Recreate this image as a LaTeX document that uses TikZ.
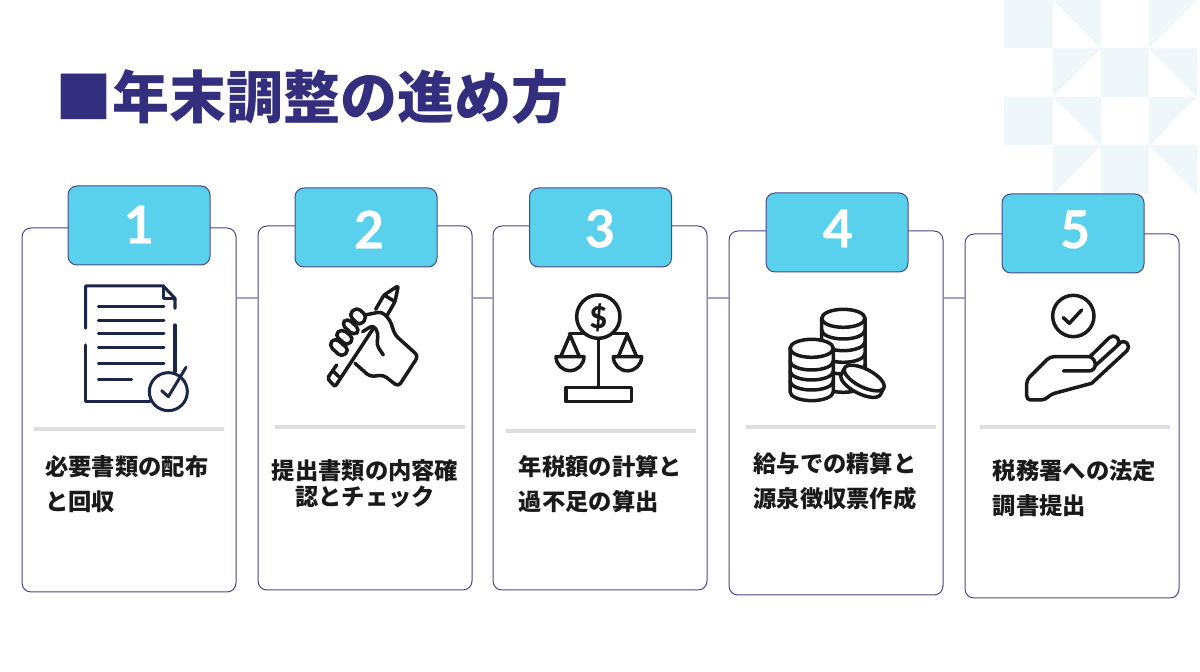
\documentclass[tikz,border=0pt]{standalone}
\usepackage{fontspec}
\newfontfamily\jpfont{Noto Sans CJK JP}
\newfontfamily\numfont[FakeBold=0.5]{Lato Bold}
\definecolor{mytitle}{RGB}{51,47,126}
\definecolor{mytab}{RGB}{90,209,236}
\definecolor{myborder}{RGB}{75,72,135}
\definecolor{mylink}{RGB}{165,162,195}
\definecolor{myrule}{RGB}{221,221,221}
\definecolor{mypale}{RGB}{240,247,251}
\definecolor{mynavy}{RGB}{28,38,72}
\definecolor{myink}{RGB}{26,26,26}
\begin{document}
\begin{tikzpicture}[x=0.5pt,y=-0.5pt,
  cardnode/.style={draw=myborder,line width=0.5pt,fill=white,rounded corners=4.5pt,minimum width=107pt,minimum height=182pt,inner sep=0pt},
  tabnode/.style={draw=myborder,line width=0.5pt,fill=mytab,rounded corners=4.5pt,minimum width=71pt,minimum height=39.5pt,inner sep=0pt},
  numnode/.style={inner sep=0pt,text=white,font=\numfont\fontsize{26}{26}\selectfont},
  linkline/.style={draw=mylink,line width=0.6pt},
  rulenode/.style={fill=myrule,minimum width=95pt,minimum height=2pt,inner sep=0pt},
  textnode/.style={inner sep=0pt,align=left,text=myink,font=\jpfont\bfseries\fontsize{11.65}{17.6}\selectfont},
  iconline/.style={line width=1.75pt,line cap=round,line join=round}]

  \fill[white] (0,0) rectangle (1200,672);
  \useasboundingbox (0,0) rectangle (1200,672);

  % pale pattern in the corner
  \foreach \row in {0,97} {
    \fill[mypale] (1004,\row) rectangle (1053,\row+48.5);
    \fill[mypale] (1053,\row) -- (1101,\row) -- (1101,\row+48.5) -- cycle;
    \fill[mypale] (1149,\row) -- (1197,\row) -- (1149,\row+48.5) -- cycle;
    \fill[mypale] (1053,\row+48.5) -- (1101,\row+48.5) -- (1053,\row+97) -- cycle;
    \fill[mypale] (1101,\row+48.5) rectangle (1149,\row+97);
    \fill[mypale] (1149,\row+48.5) -- (1197,\row+48.5) -- (1197,\row+97) -- cycle;
  }

  \node[inner sep=0pt,anchor=west,text=mytitle,font=\jpfont\bfseries\fontsize{28.5}{30}\selectfont] (title) at (55,97) {■年末調整の進め方};

  \node[cardnode] (card1) at (129,410) {};
  \node[cardnode] (card2) at (365,408) {};
  \node[cardnode] (card3) at (600,408) {};
  \node[cardnode] (card4) at (836,413) {};
  \node[cardnode] (card5) at (1072,416) {};

  \node[tabnode] (tab1) at (139,225.5) {};
  \node[tabnode] (tab2) at (366,227.5) {};
  \node[tabnode] (tab3) at (600.5,227.5) {};
  \node[tabnode] (tab4) at (837,232.5) {};
  \node[tabnode] (tab5) at (1073,233.5) {};

  \node[numnode] (num1) at (139,224.5) {1};
  \node[numnode] (num2) at (369,229.5) {2};
  \node[numnode] (num3) at (600,228.5) {3};
  \node[numnode] (num4) at (838,228.5) {4};
  \node[numnode] (num5) at (1075,229.5) {5};

  % links between the cards
  \coordinate (linky) at (0,298);
  \draw[linkline] (card1.east |- linky) -- (card2.west |- linky);
  \draw[linkline] (card2.east |- linky) -- (card3.west |- linky);
  \draw[linkline] (card3.east |- linky) -- (card4.west |- linky);
  \draw[linkline] (card4.east |- linky) -- (card5.west |- linky);

  \node[rulenode] (rule1) at (129,429.5) {};
  \node[rulenode] (rule2) at (369.5,427) {};
  \node[rulenode] (rule3) at (601,431) {};
  \node[rulenode] (rule4) at (840.5,427) {};
  \node[rulenode] (rule5) at (1075,427) {};

  \node[textnode,anchor=north west] (text1) at (45,455) {必要書類の配布\\と回収};
  \node[textnode,anchor=north,align=center,font=\jpfont\bfseries\fontsize{11.65}{12.6}\selectfont] (text2) at (365,459.5) {提出書類の内容確\\認とチェック};
  \node[textnode,anchor=north west] (text3) at (518.5,455) {年税額の計算と\\過不足の算出};
  \node[textnode,anchor=north west] (text4) at (753,451.5) {給与での精算と\\源泉徴収票作成};
  \node[textnode,anchor=north west] (text5) at (992.5,459) {税務署への法定\\調書提出};

  % icon for card 1
  \begin{scope}[shift={(60,270)},scale=1/3,iconline,line width=1.5pt,draw=mynavy]
    \draw (77,175) -- (77,48) -- (310,48) -- (345,85) -- (345,115);
    \draw (310,48) -- (310,85) -- (345,85);
    \draw (345,165) -- (345,305);
    \draw (77,225) -- (77,395) -- (270,395);
    \foreach \yy in {110,152,192,234,282} {
      \draw (115,\yy) -- (312,\yy);
    }
    \draw (115,328) -- (215,328);
    \draw (325,365) circle[radius=57];
    \draw (305,362) -- (325,380) -- (378,292);
  \end{scope}

  % icon for card 2
  \begin{scope}[shift={(310,270)},scale=1/3,iconline,draw=myink]
    \draw[rounded corners=1pt] (197,118) -- (222,75) -- (265,47) -- (255,95) -- (232,135);
    \draw (222,75) -- (255,95);
    \draw[rounded corners=1pt] (80,285) -- (52,325) -- (75,350) -- (190,175);
    \draw (68,302) -- (92,325);
    \draw[rounded corners=2.4pt] (116,135) -- (140,111) -- (172,140) -- (150,168) -- cycle;
    \draw[rounded corners=2.4pt] (94,162) -- (112,144) -- (150,180) -- (132,197) -- cycle;
    \draw[rounded corners=2.4pt] (74,195) -- (95,176) -- (132,205) -- (112,228) -- cycle;
    \draw[rounded corners=2.4pt] (56,225) -- (75,203) -- (118,240) -- (95,262) -- cycle;
    \draw[rounded corners=2pt] (165,135) -- (215,125) -- (240,150) -- (255,195) -- (325,258) -- (265,350) -- (220,315) -- (180,320) -- (135,280);
    \draw[rounded corners=2pt] (158,185) -- (190,165) -- (205,190) -- (200,225) -- (220,255);
  \end{scope}

  % icon for card 3
  \begin{scope}[shift={(540,280)},scale=1/3,iconline,draw=myink]
    \draw (88,160) -- (262,160);
    \draw (175,175) -- (175,320);
    \draw (78,322) rectangle (275,365);
    \draw[fill=white] (175,110) circle[radius=65];
    \node[inner sep=0pt,text=myink,font=\numfont\fontsize{15}{15}\selectfont] (dollar) at (175,112) {\$};
    \draw (62,230) -- (90,165) -- (118,230);
    \draw (235,230) -- (262,165) -- (290,230);
    \draw (48,230) -- (132,230) arc[start angle=0,end angle=180,radius=42] -- cycle;
    \draw (220,230) -- (305,230) arc[start angle=0,end angle=180,radius=42.5] -- cycle;
  \end{scope}

  % icon for card 4
  \begin{scope}[shift={(770,295)},scale=1/3,iconline,draw=myink]
    \draw[fill=white] (155,70) -- (155,265) arc[start angle=180,end angle=0,x radius=65,y radius=27] -- (285,70);
    \draw[fill=white] (220,70) ellipse[x radius=65,y radius=27];
    \foreach \yy in {105,140,175,210} {
      \draw (155,\yy) arc[start angle=180,end angle=0,x radius=65,y radius=27];
    }
    \draw[fill=white] (60,160) -- (60,290) arc[start angle=180,end angle=0,x radius=65,y radius=27] -- (190,160);
    \draw[fill=white] (125,160) ellipse[x radius=65,y radius=27];
    \foreach \yy in {198,228,258} {
      \draw (60,\yy) arc[start angle=180,end angle=0,x radius=65,y radius=27];
    }
    \begin{scope}[shift={(278,258)},rotate=-27]
      \draw[fill=white] (-66,-10) -- (-66,12) arc[start angle=180,end angle=0,x radius=66,y radius=27] -- (66,-10);
      \draw[fill=white] (0,-10) ellipse[x radius=66,y radius=27];
    \end{scope}
  \end{scope}

  % icon for card 5
  \begin{scope}[shift={(1010,285)},scale=1/3,iconline,draw=myink]
    \draw (190,93) circle[radius=62];
    \draw (160,98) -- (178,115) -- (215,75);
    \draw[rounded corners=2pt] (240,215) -- (120,215) -- (50,285) -- (50,345) -- (105,345) -- (122,328) -- (245,295);
    \draw (245,295) -- (351,197) arc[start angle=45,end angle=-120,radius=16] -- (325,180);
    \draw (240,215) -- (298,158) arc[start angle=-135,end angle=45,radius=17] -- (258,240);
    \draw (240,215) .. controls (262,225) and (262,258) .. (235,258) -- (160,258);
  \end{scope}

\end{tikzpicture}
\end{document}
